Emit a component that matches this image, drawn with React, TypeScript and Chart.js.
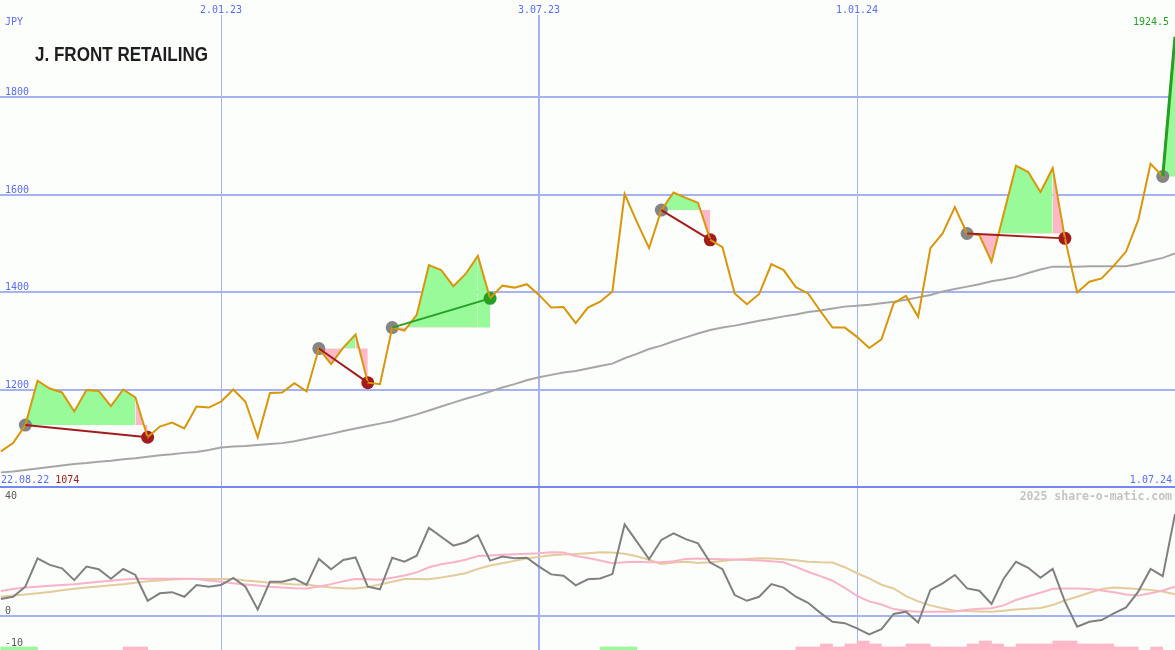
import React, { useEffect, useRef } from "react";
import { Chart, registerables } from "chart.js";

Chart.register(...registerables);

// ---- data (weekly, week index relative to 2.01.23) ----
const WEEK0 = -18;
const price = [
  1074, 1091, 1128, 1219, 1203, 1195, 1156, 1200, 1198, 1167,
  1201, 1185, 1103, 1125, 1133, 1121, 1166, 1164, 1176, 1201,
  1176, 1103, 1194, 1195, 1214, 1197, 1285, 1253, 1287, 1314,
  1215, 1212, 1328, 1322, 1354, 1456, 1446, 1413, 1438, 1475,
  1388, 1414, 1410, 1417, 1395, 1369, 1370, 1337, 1369, 1381,
  1402, 1602, 1545, 1491, 1569, 1605, 1594, 1584, 1508, 1493,
  1398, 1376, 1397, 1458, 1446, 1411, 1398, 1362, 1328, 1328,
  1309, 1286, 1304, 1378, 1393, 1350, 1491, 1521, 1575, 1521,
  1518, 1463, 1562, 1660, 1647, 1606, 1655, 1511, 1400, 1422,
  1429, 1455, 1484, 1549, 1664, 1638, 1924.5,
];
const movingAvg = [
  1031, 1033, 1036, 1039, 1042, 1045, 1048, 1050, 1053, 1055,
  1058, 1060, 1063, 1066, 1068, 1071, 1073, 1077, 1082, 1084,
  1085, 1087, 1089, 1091, 1095, 1100, 1105, 1110, 1116, 1121,
  1126, 1131, 1136, 1143, 1150, 1158, 1166, 1174, 1182, 1189,
  1197, 1205, 1212, 1220, 1226, 1231, 1236, 1239, 1244, 1249,
  1254, 1265, 1274, 1284, 1291, 1300, 1308, 1316, 1323, 1328,
  1332, 1337, 1342, 1346, 1351, 1355, 1360, 1363, 1367, 1371,
  1373, 1375, 1378, 1381, 1385, 1390, 1395, 1402, 1407, 1412,
  1417, 1423, 1427, 1432, 1440, 1447, 1453, 1453, 1453, 1454,
  1454, 1454, 1454, 1459, 1465, 1471, 1480,
];
const oscGray = [
  5.8, 6.6, 10.1, 20, 17.7, 16.5, 12.4, 17.1, 16.2, 12.9,
  16.3, 14.2, 5.2, 7.8, 8.2, 6.6, 10.7, 10.1, 10.7, 13.2,
  10.1, 2.2, 11.8, 11.8, 12.9, 10.7, 19.8, 16.2, 19.4, 20.3,
  10.1, 9.2, 20.2, 18.8, 20.9, 30.6, 27.5, 24.4, 25.6, 28.1,
  19.2, 20.6, 20, 20.2, 17.1, 14.4, 13.9, 10.6, 12.7, 13.0,
  14.5, 31.8, 25.8, 19.7, 26.4, 28.7, 26.7, 25.2, 18.5, 16.2,
  7.2, 5.2, 6.6, 11, 9.8, 6.6, 4.5, 1, -2.1, -2.6,
  -4.4, -6.5, -4.7, 0.6, 1.4, -2.4, 9, 11.3, 14.2, 9.5,
  8.7, 4.1, 13, 18.8, 16.7, 13.2, 16.3, 4.9, -3.8, -2.1,
  -1.5, 0.8, 2.9, 8.4, 16.3, 13.8, 35.4,
];
const oscPink = [
  8.6, 9.3, 9.8, 10.1, 10.4, 10.7, 11.0, 11.4, 11.8, 12.2,
  12.6, 12.9, 12.9, 12.9, 12.9, 12.9, 12.8, 12.3, 11.8, 11.3,
  10.9, 10.5, 10.1, 9.8, 9.6, 9.5, 10.2, 11.0, 12.0, 12.8,
  12.7, 12.5, 13.2, 14.0, 15.1, 16.9, 17.9, 18.6, 19.5, 20.8,
  21.0, 21.2, 21.4, 21.6, 21.8, 22.1, 22.0, 20.8, 20.1, 19.2,
  18.3, 18.6, 18.8, 18.6, 18.6, 19.0, 19.8, 19.9, 19.8, 19.7,
  19.6, 19.4, 19.2, 19.0, 18.6, 17.0, 15.3, 13.8, 12.2, 9.7,
  6.9, 5.0, 3.9, 2.3, 1.7, 1.4, 1.4, 1.4, 1.5, 2.1,
  2.4, 2.6, 3.6, 5.5, 6.8, 8.0, 9.4, 9.5, 9.5, 9.3,
  8.8, 8.2, 7.4, 7.0, 7.8, 8.8, 10.1,
];
const oscTan = [
  6.6, 7.0, 7.4, 7.8, 8.3, 8.9, 9.4, 9.8, 10.2, 10.6,
  11.0, 11.5, 12.0, 12.3, 12.6, 12.8, 12.8, 12.8, 12.8, 12.8,
  12.3, 11.9, 11.5, 11.2, 10.9, 10.9, 10.3, 9.8, 9.6, 9.5,
  10.0, 10.9, 11.8, 12.8, 12.8, 12.7, 13.3, 14.0, 14.8, 16.3,
  17.5, 18.3, 19.1, 19.9, 20.5, 21.1, 21.3, 21.5, 21.8, 22.1,
  22.0, 21.6, 20.7, 19.5, 18.0, 18.5, 18.8, 18.4, 18.6, 19.1,
  19.5, 19.8, 20.0, 19.9, 19.7, 19.3, 18.8, 18.6, 18.5, 16.9,
  14.8, 13.0, 10.8, 9.5, 6.8, 5.0, 3.6, 2.6, 1.7, 1.6,
  1.5, 1.4, 1.7, 2.2, 2.4, 2.7, 3.7, 5.3, 6.6, 8.0,
  9.3, 9.8, 9.6, 9.3, 9.0, 8.4, 7.5,
];

// trades (week indices)
const tradeEntry = [-16, 8, 14, 36, 61, 77];
const tradeExit = [-6, 12, 22, 40, 69, 78];

// regime bars in lower panel
const greenBarWeeks = [-18, -17, -16, 31, 32, 33];
const greenBarHeights = [1, 1, 1, 1, 1, 1];
const pinkBarWeeks = [
  -8, -7, 47, 48, 49, 50, 51, 52, 53, 54, 55, 56, 57, 58, 59, 60,
  61, 62, 63, 64, 65, 66, 67, 68, 69, 70, 71, 72, 73, 74, 76,
];
const pinkBarHeights = [
  1, 1, 1, 1, 2, 1, 2, 3, 2, 1, 1, 2, 2, 1, 1, 1,
  2, 3, 2, 1, 2, 2, 2, 3, 3, 2, 2, 2, 1, 1, 1,
];

const dateTickWeeks = [0, 26, 52];
const dateTickLabels = ["2.01.23", "3.07.23", "1.01.24"];
const priceTicks = [1200, 1400, 1600, 1800];
const oscLabelTicks = [40, 0, -10];
const startDate = "22.08.22";
const endDate = "1.07.24";
const title = "J. FRONT RETAILING";
const currency = "JPY";
const watermark = "2025 share-o-matic.com";

// ---- styles ----
const BG = "#fcfefc";
const GRID = "#a5b3f2";
const GRID_DARK = "#7688ef";
const LABEL_BLUE = "#5a6cf2";
const PRICE_COL = "#d8960a";
const MA_COL = "#a6a6a6";
const FILL_GREEN = "#98fa98";
const FILL_PINK = "#ffb8c8";
const LOSS_COL = "#a31c1c";
const WIN_COL = "#24a024";
const MONO = '"DejaVu Sans Mono", monospace';

const XMIN = -18.07;
const XMAX = 78;

export default function App() {
  const topRef = useRef<HTMLCanvasElement>(null);
  const botRef = useRef<HTMLCanvasElement>(null);

  useEffect(() => {
    document.body.style.margin = "0";
    const lastWeek = WEEK0 + price.length - 1;
    const pAt = (w: number) => price[w - WEEK0];
    const pts = (arr: number[]) => arr.map((v, i) => ({ x: WEEK0 + i, y: v }));
    const range = (a: number, b: number) => {
      const r: number[] = [];
      for (let w = a; w <= b; w++) r.push(w);
      return r;
    };

    const datasets: any[] = [];
    const hidden = {
      borderWidth: 0,
      borderColor: "rgba(0,0,0,0)",
      pointRadius: 0,
      tension: 0,
    };
    const entryPts: any[] = [];
    const exitPts: any[] = [];
    const exitCols: string[] = [];

    tradeEntry.forEach((e, k) => {
      const xw = tradeExit[k];
      const ep = pAt(e);
      const xp = pAt(xw);
      const win = xp >= ep;
      const resFill = win ? FILL_GREEN : FILL_PINK;
      const body = range(e, xw - 1);
      if (body.length >= 2) {
        const lvl = datasets.length;
        datasets.push({ ...hidden, data: body.map((w) => ({ x: w, y: ep })), fill: false, order: 20 });
        datasets.push({
          ...hidden,
          data: body.map((w) => ({ x: w, y: pAt(w) })),
          fill: { target: lvl, above: FILL_GREEN, below: FILL_PINK },
          order: 10,
        });
      }
      const last = [xw - 1, xw];
      const lvl2 = datasets.length;
      datasets.push({ ...hidden, data: last.map((w) => ({ x: w, y: ep })), fill: false, order: 20 });
      datasets.push({
        ...hidden,
        data: last.map((w) => ({ x: w, y: pAt(w) })),
        fill: { target: lvl2, above: resFill, below: resFill },
        order: 10,
      });
      datasets.push({
        data: [{ x: e, y: ep }, { x: xw, y: xp }],
        borderColor: win ? WIN_COL : LOSS_COL,
        borderWidth: xw === lastWeek ? 3 : 2,
        pointRadius: 0,
        fill: false,
        tension: 0,
        order: 3,
      });
      entryPts.push({ x: e, y: ep });
      if (xw !== lastWeek) {
        exitPts.push({ x: xw, y: xp });
        exitCols.push(win ? WIN_COL : LOSS_COL);
      }
    });

    datasets.push({
      data: pts(movingAvg),
      borderColor: MA_COL,
      borderWidth: 2,
      pointRadius: 0,
      fill: false,
      tension: 0,
      order: 9,
    });
    datasets.push({
      data: entryPts,
      showLine: false,
      pointRadius: 6.5,
      pointBackgroundColor: "#858585",
      pointBorderWidth: 0,
      fill: false,
      order: 7,
    });
    datasets.push({
      data: exitPts,
      showLine: false,
      pointRadius: 6.5,
      pointBackgroundColor: exitCols,
      pointBorderWidth: 0,
      fill: false,
      order: 7,
    });
    datasets.push({
      data: pts(price),
      borderColor: PRICE_COL,
      borderWidth: 2,
      pointRadius: 0,
      fill: false,
      tension: 0,
      order: 5,
    });

    const xScale = () => ({
      type: "linear",
      min: XMIN,
      max: XMAX,
      offset: false,
      ticks: { display: false },
      border: { display: false },
      grid: {
        offset: false,
        drawTicks: false,
        color: GRID,
        lineWidth: (c: any) => (c.tick && c.tick.value === 26 ? 2 : 1),
      },
      afterBuildTicks: (s: any) => {
        s.ticks = dateTickWeeks.map((v) => ({ value: v }));
      },
    });

    const topLabels = {
      id: "topLabels",
      afterDraw(chart: any) {
        const ctx = chart.ctx;
        const xs = chart.scales.x;
        const ys = chart.scales.y;
        ctx.save();
        ctx.font = `10px ${MONO}`;
        ctx.fillStyle = LABEL_BLUE;
        ctx.textAlign = "left";
        ctx.textBaseline = "alphabetic";
        ctx.fillText(currency, 5, 25);
        priceTicks.forEach((v) => {
          ctx.fillText(String(v), 5, ys.getPixelForValue(v) - 2);
        });
        ctx.textAlign = "center";
        dateTickWeeks.forEach((w, i) => {
          ctx.fillText(dateTickLabels[i], xs.getPixelForValue(w), 13);
        });
        ctx.textAlign = "left";
        ctx.fillText(startDate, 1, 483);
        const sw = ctx.measureText(startDate + " ").width;
        ctx.fillStyle = LOSS_COL;
        ctx.fillText(String(price[0]), 1 + sw, 483);
        ctx.fillStyle = LABEL_BLUE;
        ctx.textAlign = "right";
        ctx.fillText(endDate, 1172, 483);
        ctx.fillStyle = WIN_COL;
        ctx.fillText(String(price[price.length - 1]), 1169, 25);
        // title: bold sans, horizontally condensed
        ctx.fillStyle = "#1e1e1e";
        ctx.textAlign = "left";
        ctx.font = `bold 21px "Liberation Sans", Arial, sans-serif`;
        const tw = ctx.measureText(title).width;
        const sx = 173 / tw;
        ctx.translate(35, 61);
        ctx.scale(sx, 1);
        ctx.fillText(title, 0, 0);
        ctx.restore();
      },
    };

    const top = new Chart(topRef.current as HTMLCanvasElement, {
      type: "line",
      data: { datasets },
      options: {
        responsive: false,
        animation: false,
        layout: { autoPadding: false, padding: { top: 15, left: 0, right: 0, bottom: 0 } },
        plugins: { legend: { display: false }, tooltip: { enabled: false } },
        scales: {
          x: xScale() as any,
          y: {
            type: "linear",
            min: 996.9,
            max: 1969.2,
            ticks: { display: false },
            border: { display: false },
            grid: {
              drawTicks: false,
              lineWidth: 2,
              color: (c: any) => (c.tick && c.tick.value === 1000 ? GRID_DARK : GRID),
            },
            afterBuildTicks: (s: any) => {
              s.ticks = [1000, ...priceTicks].map((v) => ({ value: v }));
            },
          },
        },
      },
      plugins: [topLabels],
    } as any);

    const botLabels = {
      id: "botLabels",
      afterDraw(chart: any) {
        const ctx = chart.ctx;
        const ys = chart.scales.y;
        ctx.save();
        ctx.font = `10px ${MONO}`;
        ctx.fillStyle = "#5a5a5a";
        ctx.textAlign = "left";
        oscLabelTicks.forEach((v) => {
          const py = ys.getPixelForValue(v);
          ctx.fillText(String(v), 5, v < 0 ? chart.chartArea.bottom - 4 : py - 2);
        });
        ctx.font = `bold 11.5px ${MONO}`;
        ctx.fillStyle = "#c4c4c4";
        ctx.textAlign = "right";
        ctx.fillText(watermark, 1172, 11);
        ctx.restore();
      },
    };

    const bot = new Chart(botRef.current as HTMLCanvasElement, {
      type: "line",
      data: {
        datasets: [
          {
            type: "bar",
            yAxisID: "yb",
            data: greenBarWeeks.map((w, i) => ({ x: w + 0.5, y: greenBarHeights[i] })),
            backgroundColor: FILL_GREEN,
            borderWidth: 0,
            grouped: false,
            barPercentage: 1,
            categoryPercentage: 1,
            order: 10,
          },
          {
            type: "bar",
            yAxisID: "yb",
            data: pinkBarWeeks.map((w, i) => ({ x: w + 0.5, y: pinkBarHeights[i] })),
            backgroundColor: FILL_PINK,
            borderWidth: 0,
            grouped: false,
            barPercentage: 1,
            categoryPercentage: 1,
            order: 10,
          },
          {
            data: pts(oscTan),
            borderColor: "#e3cb9b",
            borderWidth: 2,
            pointRadius: 0,
            tension: 0,
            fill: false,
            order: 4,
          },
          {
            data: pts(oscPink),
            borderColor: "#f9b2c8",
            borderWidth: 2,
            pointRadius: 0,
            tension: 0,
            fill: false,
            order: 3,
          },
          {
            data: pts(oscGray),
            borderColor: "#808080",
            borderWidth: 2,
            pointRadius: 0,
            tension: 0,
            fill: false,
            order: 1,
          },
        ],
      },
      options: {
        responsive: false,
        animation: false,
        layout: { autoPadding: false, padding: 0 },
        plugins: { legend: { display: false }, tooltip: { enabled: false } },
        scales: {
          x: xScale() as any,
          y: {
            type: "linear",
            min: -11.95,
            max: 44.15,
            ticks: { display: false },
            border: { display: false },
            grid: { drawTicks: false, lineWidth: 2, color: GRID },
            afterBuildTicks: (s: any) => {
              s.ticks = [{ value: 0 }];
            },
          },
          yb: {
            type: "linear",
            display: false,
            min: 0,
            max: 161 / 3,
          },
        },
      },
      plugins: [botLabels],
    } as any);

    return () => {
      top.destroy();
      bot.destroy();
    };
  }, []);

  return (
    <div style={{ width: 1175, height: 650, background: BG, overflow: "hidden" }}>
      <canvas ref={topRef} width={1175} height={489} style={{ display: "block" }} />
      <canvas ref={botRef} width={1175} height={161} style={{ display: "block" }} />
    </div>
  );
}
